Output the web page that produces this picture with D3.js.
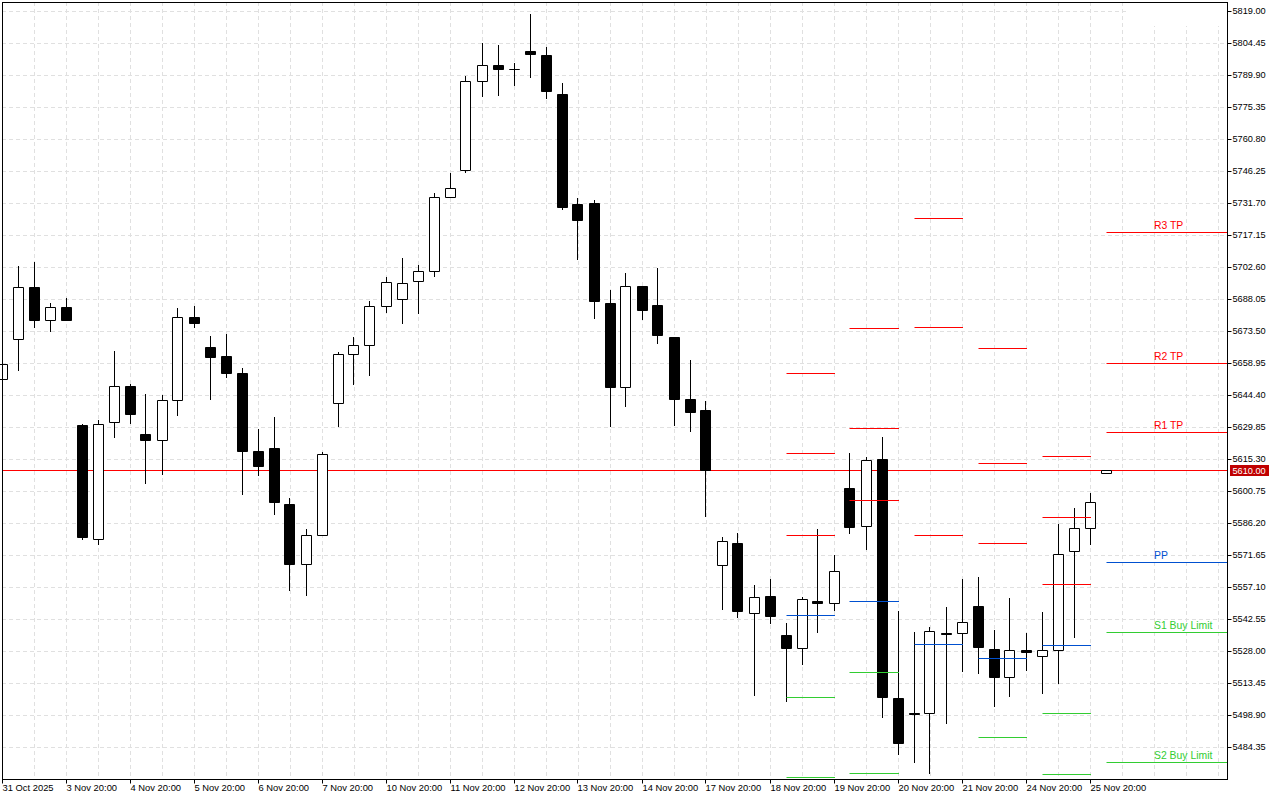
<!DOCTYPE html>
<html>
<head>
<meta charset="utf-8">
<script src="https://cdnjs.cloudflare.com/ajax/libs/d3/7.8.5/d3.min.js"></script>
<style>
  html, body { margin: 0; padding: 0; background: #fff; }
  svg { display: block; }
  text { font-family: "Liberation Sans", sans-serif; font-size: 9.4px; }
  .price-label { font-size: 9.2px; }
  .level-label { font-size: 10.4px; }
</style>
</head>
<body>
<script>
var opens = [5651.7,5669.9,5693.5,5678.5,5684.4,5630.8,5578.9,5632.1,5648.5,5626.7,5623.9,5642.1,5679.9,5666.2,5662.1,5654.4,5618.9,5620.3,5594.8,5567.6,
  5580.7,5640.8,5663.0,5667.1,5684.9,5688.1,5696.2,5700.8,5734.4,5746.7,5787.2,5794.4,5792.6,5800.8,5799.0,5781.3,5731.2,5731.7,5686.2,5648.0,
  5694.0,5685.3,5670.8,5642.6,5637.6,5567.1,5577.1,5545.3,5553.0,5535.3,5529.4,5550.7,5549.8,5602.1,5584.8,5615.3,5506.6,5499.8,5499.8,5536.2,
  5536.2,5548.5,5528.9,5516.2,5528.5,5525.7,5528.5,5573.5,5583.9,5608.9];
var highs = [5660.3,5703.1,5704.9,5686.2,5688.5,5631.2,5633.0,5664.4,5649.4,5644.9,5644.4,5684.0,5684.9,5671.2,5672.1,5656.7,5628.9,5634.4,5597.6,5583.5,
  5618.5,5664.0,5670.8,5687.1,5698.1,5706.7,5703.5,5736.2,5745.3,5789.4,5804.5,5803.5,5795.4,5817.6,5802.6,5786.3,5734.0,5733.1,5692.1,5699.9,
  5694.0,5702.1,5670.8,5660.3,5641.7,5579.8,5581.6,5558.0,5560.7,5540.7,5552.6,5583.5,5571.7,5618.0,5616.2,5625.3,5546.2,5536.6,5538.9,5548.0,
  5560.7,5561.7,5537.5,5552.1,5536.2,5545.7,5585.7,5593.0,5599.8,5610.3];
var lows = [5649.0,5655.8,5675.3,5673.5,5678.5,5578.9,5576.7,5625.3,5631.7,5604.4,5608.5,5635.3,5675.3,5642.6,5652.6,5599.4,5608.0,5590.3,5555.7,5553.5,
  5580.7,5630.3,5649.4,5653.5,5682.1,5677.1,5681.7,5698.5,5734.4,5745.8,5780.4,5780.8,5785.4,5789.0,5779.4,5729.0,5706.2,5679.4,5630.3,5639.4,
  5679.0,5668.0,5630.8,5628.0,5589.4,5547.1,5543.5,5508.0,5540.7,5505.3,5522.1,5536.6,5546.6,5581.6,5574.4,5498.0,5481.2,5477.5,5472.5,5495.3,
  5518.9,5518.0,5503.0,5507.5,5519.4,5508.9,5513.5,5534.4,5576.7,5608.9];
var closes = [5658.5,5693.5,5678.5,5684.4,5678.5,5579.8,5631.2,5648.5,5635.8,5623.9,5642.1,5679.9,5677.1,5661.7,5654.4,5618.9,5612.1,5595.8,5567.6,5580.7,
  5617.6,5663.0,5667.1,5684.9,5695.8,5695.3,5700.8,5734.4,5738.5,5787.2,5794.4,5792.6,5792.6,5799.5,5782.6,5729.9,5724.0,5687.1,5648.0,5694.0,
  5683.0,5671.7,5642.6,5636.7,5610.3,5578.0,5546.2,5552.6,5543.9,5529.4,5551.6,5549.8,5564.4,5584.4,5614.8,5507.1,5486.2,5499.4,5537.1,5535.7,
  5541.2,5529.8,5516.2,5528.5,5527.5,5528.5,5572.1,5583.9,5595.8,5610.3];

// pivot levels, one entry per block of bars
var pivotStart = [49, 53, 57, 61, 65, 69];
var pivotEnd = [52, 56, 60, 64, 68, null];
var r3 = [5654.4, 5674.9, 5724.9, 5665.8, 5616.7, 5718.5];
var r2 = [5618.0, 5629.4, 5675.3, 5613.5, 5588.9, 5659.0];
var r1 = [5580.7, 5596.7, 5580.7, 5577.1, 5558.5, 5627.6];
var pp = [5544.4, 5550.7, 5531.2, 5524.8, 5530.7, 5568.5];
var s1 = [5507.1, 5518.5, null, 5488.9, 5499.8, 5536.6];
var s2 = [5470.7, 5472.5, null, null, 5472.1, 5477.5];

var priceTicks = [5819.00,5804.45,5789.90,5775.35,5760.80,5746.25,5731.70,5717.15,5702.60,5688.05,5673.50,5658.95,
  5644.40,5629.85,5615.30,5600.75,5586.20,5571.65,5557.10,5542.55,5528.00,5513.45,5498.90,5484.35];
var timeLabels = ['31 Oct 2025','3 Nov 20:00','4 Nov 20:00','5 Nov 20:00','6 Nov 20:00','7 Nov 20:00','10 Nov 20:00','11 Nov 20:00','12 Nov 20:00',
  '13 Nov 20:00','14 Nov 20:00','17 Nov 20:00','18 Nov 20:00','19 Nov 20:00','20 Nov 20:00','21 Nov 20:00','24 Nov 20:00','25 Nov 20:00'];
var levelNames = ['R3 TP', 'R2 TP', 'R1 TP', 'PP', 'S1 Buy Limit', 'S2 Buy Limit'];
var bidLine = 5610.3;
var bidLabel = '5610.00';

var RED = '#ff0000', BLUE = '#0050d0', GREEN = '#32cd32', GRID = '#e0e0e0';
var left = 2, right = 1227, top_ = 2, bottom = 779, halfBody = 5;

var x = d3.scaleLinear().domain([0, 69]).range([left, left + 16 * 69]);
var y = d3.scaleLinear().domain([5819, 5484.35]).range([11.5, 747.5]);

// snap to the pixel grid so 1px lines stay crisp
function px(v) { return Math.floor(v) + 0.5; }
function py(p) { return Math.round(y(p) - 0.5) + 0.5; }

var svg = d3.select('body').append('svg')
  .attr('width', 1280)
  .attr('height', 800);

// grid
var grid = svg.append('g').attr('stroke', GRID).attr('stroke-dasharray', '4,3').attr('fill', 'none');
grid.selectAll('.h').data(priceTicks).enter().append('line')
  .attr('x1', left).attr('x2', right)
  .attr('y1', py).attr('y2', py);
grid.selectAll('.v').data(d3.range(left + 32, right, 32)).enter().append('line')
  .attr('x1', px).attr('x2', px)
  .attr('y1', top_).attr('y2', bottom);

// the blank patch top right
svg.append('rect').attr('x', 1127).attr('y', 3).attr('width', 100).attr('height', 23).attr('fill', '#fff');

// current price line sits behind the bars
svg.append('line')
  .attr('x1', left).attr('x2', right)
  .attr('y1', py(bidLine)).attr('y2', py(bidLine))
  .attr('stroke', RED);

var indexes = d3.range(opens.length);

var candles = svg.append('g').attr('class', 'candles');
candles.selectAll('.wick').data(indexes).enter().append('line')
  .attr('x1', function(i) { return px(x(i)); })
  .attr('x2', function(i) { return px(x(i)); })
  .attr('y1', function(i) { return py(highs[i]) - 0.5; })
  .attr('y2', function(i) { return py(lows[i]) + 0.5; })
  .attr('stroke', '#000');
// path rather than rect, a zero height rect would not draw at all
candles.selectAll('.body').data(indexes).enter().append('path')
  .attr('d', function(i) {
    var top = py(Math.max(opens[i], closes[i]));
    var h = py(Math.min(opens[i], closes[i])) - top;
    return 'M' + (px(x(i)) - halfBody) + ',' + top + 'h' + (halfBody * 2) + 'v' + h + 'h' + (-halfBody * 2) + 'z';
  })
  .attr('fill', function(i) { return closes[i] < opens[i] ? '#000' : '#fff'; })
  .attr('stroke', '#000');

// pivot segments
var levels = [
  { values: r3, color: RED }, { values: r2, color: RED }, { values: r1, color: RED },
  { values: pp, color: BLUE }, { values: s1, color: GREEN }, { values: s2, color: GREEN }
];
levels.forEach(function(level, n) {
  var g = svg.append('g').attr('stroke', level.color);
  pivotStart.forEach(function(start, j) {
    if (level.values[j] === null) return;
    g.append('line')
      .attr('x1', px(x(start)))
      .attr('x2', pivotEnd[j] === null ? right : px(x(pivotEnd[j])) + 0.5)
      .attr('y1', py(level.values[j]))
      .attr('y2', py(level.values[j]));
  });
  svg.append('text')
    .attr('class', 'level-label')
    .attr('x', 1154)
    .attr('y', py(level.values[5]) - 3.5)
    .attr('fill', level.color)
    .text(levelNames[n]);
});

// frame
svg.append('rect')
  .attr('x', left + 0.5).attr('y', top_ + 0.5)
  .attr('width', right - left).attr('height', bottom - top_)
  .attr('fill', 'none').attr('stroke', '#000');

// price axis
var priceAxis = d3.axisRight(y)
  .tickValues(priceTicks)
  .tickSize(4)
  .tickPadding(1)
  .tickFormat(d3.format('.2f'));
var gp = svg.append('g')
  .attr('transform', 'translate(' + (right + 0.5) + ',0)')
  .call(priceAxis);
gp.select('.domain').remove();
gp.selectAll('.tick').attr('transform', function(d) { return 'translate(0,' + py(d) + ')'; });
gp.selectAll('text').attr('class', 'price-label').attr('fill', '#000');
gp.attr('font-family', null).attr('font-size', null);

// time axis, a label every four bars
var timeTicks = timeLabels.map(function(d, i) { return i * 4; });
var timeAxis = d3.axisBottom(x)
  .tickValues(timeTicks)
  .tickSize(4)
  .tickPadding(1)
  .tickFormat(function(d, i) { return timeLabels[i]; });
var gt = svg.append('g')
  .attr('transform', 'translate(0,' + (bottom + 0.5) + ')')
  .call(timeAxis);
gt.select('.domain').remove();
gt.selectAll('.tick').attr('transform', function(d) { return 'translate(' + px(x(d)) + ',0)'; });
gt.selectAll('text').attr('text-anchor', 'start').attr('x', 0).attr('fill', '#000');
gt.attr('font-family', null).attr('font-size', null);

// current price tag
svg.append('rect')
  .attr('x', 1230).attr('y', 465).attr('width', 39).attr('height', 11)
  .attr('fill', '#c00000');
svg.append('text')
  .attr('class', 'price-label')
  .attr('x', 1232.5).attr('y', 474)
  .attr('fill', '#fff')
  .text(bidLabel);
</script>
</body>
</html>
